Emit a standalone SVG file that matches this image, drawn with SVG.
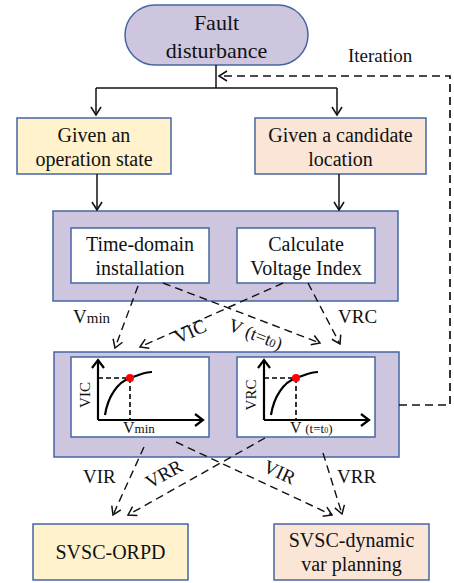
<svg xmlns="http://www.w3.org/2000/svg" width="454" height="583" viewBox="0 0 454 583">
  <style>
    text { font-family: "Liberation Serif", "Times New Roman", serif; fill: #111; }
    .t20 { font-size: 20px; text-anchor: middle; }
    .t22 { font-size: 22px; text-anchor: middle; }
    .lbl { font-size: 19px; }
    .sm { font-size: 15px; }
    .box { stroke: #4566A3; stroke-width: 1.5; }
    .lav { fill: #CEC6DF; }
    .yel { fill: #FFF2CC; }
    .pch { fill: #FBE5D6; }
    .wht { fill: #FFFFFF; }
    .solid { fill: none; stroke: #111; stroke-width: 1.5; }
    .dash { fill: none; stroke: #111; stroke-width: 1.4; stroke-dasharray: 8 5; }
    .axis { fill: none; stroke: #000; stroke-width: 2.2; }
    .guide { fill: none; stroke: #000; stroke-width: 1.6; stroke-dasharray: 5 3; }
  </style>
  <defs>
    <marker id="arr" markerUnits="userSpaceOnUse" markerWidth="14" markerHeight="14" refX="0" refY="0" viewBox="-10 -7 12 14" orient="auto">
      <path d="M-8,-5 L0,0 L-8,5" fill="none" stroke="#111" stroke-width="1.5"/>
    </marker>
    <marker id="axarr" markerUnits="userSpaceOnUse" markerWidth="16" markerHeight="16" refX="0" refY="0" viewBox="-11 -8 13 16" orient="auto">
      <path d="M-8,-6 L0,0 L-8,6" fill="none" stroke="#000" stroke-width="2.2"/>
    </marker>
  </defs>

  <!-- start node -->
  <g id="fault">
    <rect class="box lav" x="125" y="5" width="183" height="60" rx="30" ry="30"/>
    <text class="t22" x="216.5" y="30">Fault</text>
    <text class="t22" x="216.5" y="58">disturbance</text>
  </g>

  <g id="operation-state">
    <rect class="box yel" x="17" y="118" width="154" height="56"/>
    <text class="t20" x="94" y="142">Given an</text>
    <text class="t20" x="94" y="166">operation state</text>
  </g>

  <g id="candidate-location">
    <rect class="box pch" x="255" y="118" width="171" height="56"/>
    <text class="t20" x="340.5" y="142">Given a candidate</text>
    <text class="t20" x="340.5" y="166">location</text>
  </g>

  <g id="simulation">
    <rect class="box lav" x="53" y="211" width="345" height="90"/>
    <g id="time-domain">
      <rect class="box wht" x="71" y="228" width="138" height="55"/>
      <text class="t20" x="140" y="251">Time-domain</text>
      <text class="t20" x="140" y="275">installation</text>
    </g>
    <g id="voltage-index">
      <rect class="box wht" x="237" y="228" width="138" height="55"/>
      <text class="t20" x="306" y="251">Calculate</text>
      <text class="t20" x="306" y="275">Voltage Index</text>
    </g>
  </g>

  <g id="curves">
    <rect class="box lav" x="54" y="352" width="345" height="105"/>
    <g id="vic-curve">
      <rect class="box wht" x="71" y="357" width="138" height="80"/>
      <path class="axis" d="M98,420 L98,360" marker-end="url(#axarr)"/>
      <path class="axis" d="M98,420 L203,420" marker-end="url(#axarr)"/>
      <path class="axis" d="M105,415 C108,396 118,382 130,378 S145,372 152,372"/>
      <path class="guide" d="M98,378 L130,378 L130,420"/>
      <circle cx="130" cy="378" r="4" fill="#FF0000"/>
      <text class="sm" transform="translate(90,395) rotate(-90)" text-anchor="middle">VIC</text>
      <text x="123" y="433" style="font-size:16px">V<tspan style="font-size:13px">min</tspan></text>
    </g>
    <g id="vrc-curve">
      <rect class="box wht" x="237" y="357" width="138" height="80"/>
      <path class="axis" d="M264,420 L264,360" marker-end="url(#axarr)"/>
      <path class="axis" d="M264,420 L369,420" marker-end="url(#axarr)"/>
      <path class="axis" d="M271,415 C274,396 284,382 296,378 S311,372 318,372"/>
      <path class="guide" d="M264,378 L296,378 L296,420"/>
      <circle cx="296" cy="378" r="4" fill="#FF0000"/>
      <text class="sm" transform="translate(256,395) rotate(-90)" text-anchor="middle">VRC</text>
      <text x="290" y="433" style="font-size:16px">V <tspan style="font-size:13px">(t=t</tspan><tspan style="font-size:8px">0</tspan><tspan style="font-size:13px">)</tspan></text>
    </g>
  </g>

  <g id="orpd">
    <rect class="box yel" x="33" y="524" width="155" height="56"/>
    <text class="t20" x="110.5" y="559">SVSC-ORPD</text>
  </g>

  <g id="var-planning">
    <rect class="box pch" x="274" y="524" width="155" height="56"/>
    <text class="t20" x="351.5" y="547">SVSC-dynamic</text>
    <text class="t20" x="351.5" y="571">var planning</text>
  </g>

  <!-- connectors -->
  <g id="connectors">
    <path class="solid" d="M216,65 L216,88"/>
    <path class="solid" d="M96,88 L337,88"/>
    <path class="solid" d="M96,88 L96,115" marker-end="url(#arr)"/>
    <path class="solid" d="M337,88 L337,115" marker-end="url(#arr)"/>
    <path class="solid" d="M97,174 L97,210" marker-end="url(#arr)"/>
    <path class="solid" d="M339,174 L339,210" marker-end="url(#arr)"/>

    <!-- iteration loop -->
    <path class="dash" style="stroke-width:1.7" d="M399,405 L450,405 L450,76 L219,76" marker-end="url(#arr)"/>
    <text class="lbl" x="348" y="62">Iteration</text>

    <!-- indices to curves -->
    <path class="dash" d="M138,286 L115,348" marker-end="url(#arr)"/>
    <path class="dash" d="M163,283 L320,343" marker-end="url(#arr)"/>
    <path class="dash" d="M283,283 L140,347" marker-end="url(#arr)"/>
    <path class="dash" d="M308,283 L340,344" marker-end="url(#arr)"/>
    <text x="73" y="323" class="lbl">V<tspan style="font-size:15px">min</tspan></text>
    <text class="lbl" transform="translate(178,344) rotate(-24)">VIC</text>
    <text class="lbl" transform="translate(227,330) rotate(21)">V <tspan style="font-size:18px">(t=t</tspan><tspan style="font-size:12px">0</tspan><tspan style="font-size:18px">)</tspan></text>
    <text x="338" y="323" class="lbl">VRC</text>

    <!-- curves to applications -->
    <path class="dash" d="M144,447 L113,515" marker-end="url(#arr)"/>
    <path class="dash" d="M176,442 L332,515" marker-end="url(#arr)"/>
    <path class="dash" d="M265,438 L128,515" marker-end="url(#arr)"/>
    <path class="dash" d="M323,453 L342,514" marker-end="url(#arr)"/>
    <text x="83" y="483" class="lbl">VIR</text>
    <text class="lbl" transform="translate(150,489) rotate(-29)">VRR</text>
    <text class="lbl" transform="translate(262,471) rotate(25)">VIR</text>
    <text x="337" y="483" class="lbl">VRR</text>
  </g>
</svg>
